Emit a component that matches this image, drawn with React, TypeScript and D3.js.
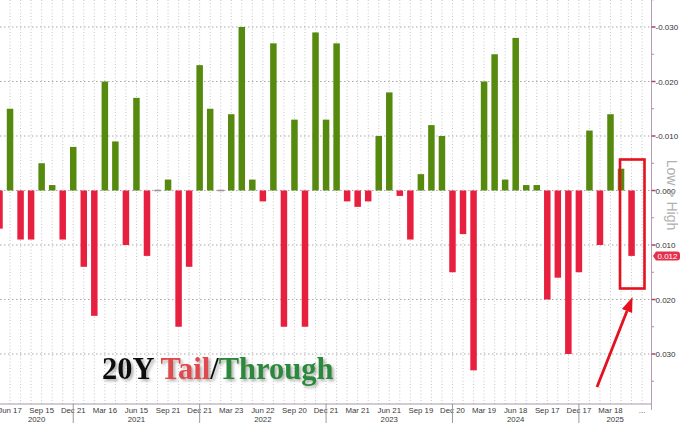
import React from 'react';
import * as d3 from 'd3';

const auctionMonths = [
  '2020-05','2020-06','2020-07','2020-08','2020-09','2020-10','2020-11','2020-12',
  '2021-01','2021-02','2021-03','2021-04','2021-05','2021-06','2021-07','2021-08','2021-09','2021-10','2021-11','2021-12',
  '2022-01','2022-02','2022-03','2022-04','2022-05','2022-06','2022-07','2022-08','2022-09','2022-10','2022-11','2022-12',
  '2023-01','2023-02','2023-03','2023-04','2023-05','2023-06','2023-07','2023-08','2023-09','2023-10','2023-11','2023-12',
  '2024-01','2024-02','2024-03','2024-04','2024-05','2024-06','2024-07','2024-08','2024-09','2024-10','2024-11','2024-12',
  '2025-01','2025-02','2025-03','2025-04','2025-05',
];

// positive = tail (drawn downward, axis Low > High), negative = through
const tailValues = [
  0.007, -0.015, 0.009, 0.009, -0.005, -0.001, 0.009, -0.008,
  0.014, 0.023, -0.020, -0.009, 0.010, -0.017, 0.012, 0.0, -0.002, 0.025, 0.014, -0.023,
  -0.015, 0.0, -0.014, -0.030, -0.002, 0.002, -0.027, 0.025, -0.013, 0.025, -0.029, -0.013,
  -0.027, 0.002, 0.003, 0.002, -0.010, -0.018, 0.001, 0.009, -0.003, -0.012, -0.010, 0.015,
  0.008, 0.033, -0.020, -0.025, -0.002, -0.028, -0.001, -0.001, 0.020, 0.016, 0.030, 0.015,
  -0.011, 0.010, -0.014, -0.004, 0.012,
];

const tickMonths = [
  '2020-06','2020-09','2020-12','2021-03','2021-06','2021-09','2021-12',
  '2022-03','2022-06','2022-09','2022-12','2023-03','2023-06','2023-09','2023-12',
  '2024-03','2024-06','2024-09','2024-12','2025-03','next',
];
const tickLabels = [
  'Jun 17','Sep 15','Dec 21','Mar 16','Jun 15','Sep 21','Dec 21',
  'Mar 23','Jun 22','Sep 20','Dec 21','Mar 21','Jun 21','Sep 19','Dec 20',
  'Mar 19','Jun 18','Sep 17','Dec 17','Mar 18','...',
];
const yearLabels = ['2020','2021','2022','2023','2024','2025'];
const yearEndMonths = ['2020-12','2021-12','2022-12','2023-12','2024-12'];
const yTicks = [-0.03, -0.02, -0.01, 0, 0.01, 0.02, 0.03];
const yMinorTicks = [-0.035, -0.025, -0.015, -0.005, 0.005, 0.015, 0.025, 0.035];

const W = 680;
const H = 423;
const PLOT_RIGHT = 651.5;
const AXIS_Y = 404;
const GREEN = '#558a0e';
const RED = '#e8203f';

export default function App() {
  const domain = [...auctionMonths, 'next'];
  const x = d3.scalePoint<string>().domain(domain).range([-0.5, 642.1]);
  const y = d3.scaleLinear().domain([-0.03, 0.03]).range([27, 354]);
  const barW = 6.5;
  const y0 = y(0);

  const bounds = [0, ...yearEndMonths.map((m) => x(m) as number), PLOT_RIGHT];
  const lastVal = tailValues[tailValues.length - 1];
  const lastY = y(lastVal);

  // arrow annotation
  const ax0 = 597, ay0 = 387, ax1 = 632.5, ay1 = 297;
  const dx = ax1 - ax0, dy = ay1 - ay0;
  const len = Math.hypot(dx, dy);
  const ux = dx / len, uy = dy / len;
  const headL = 15, headW = 5.5;
  const bx = ax1 - ux * headL, by = ay1 - uy * headL;
  const head = `${ax1},${ay1} ${bx - uy * headW},${by + ux * headW} ${bx + uy * headW},${by - ux * headW}`;

  return (
    <svg width={W} height={H} style={{ position: 'absolute', left: 0, top: 0, background: '#fff' }}
      fontFamily="'Liberation Sans', Arial, sans-serif">
      <defs>
        <filter id="shadow" x="-10%" y="-20%" width="130%" height="160%">
          <feDropShadow dx="2" dy="2" stdDeviation="1.4" floodColor="#777" floodOpacity="0.6" />
        </filter>
      </defs>
      <rect x={0} y={0} width={W} height={H} fill="#fff" />

      {/* vertical grid lines */}
      {domain.map((m) => (
        <line key={'vg' + m} x1={x(m)} x2={x(m)} y1={0} y2={AXIS_Y}
          stroke="#c4c4c4" strokeWidth={1} strokeDasharray="1,2.2" />
      ))}
      {/* horizontal grid lines */}
      {yTicks.map((t) => (
        <line key={'hg' + t} x1={0} x2={PLOT_RIGHT} y1={y(t)} y2={y(t)}
          stroke="#a8a8a8" strokeWidth={1} strokeDasharray="1.5,2.5" />
      ))}

      {/* bars */}
      {auctionMonths.map((m, i) => {
        const v = tailValues[i];
        const cx = x(m) as number;
        if (v === 0) {
          return <rect key={m} x={cx - barW / 2} y={y0 - 0.8} width={barW} height={1.6} fill="#a391a0" />;
        }
        const top = Math.min(y(v), y0);
        const h = Math.abs(y(v) - y0);
        return <rect key={m} x={cx - barW / 2} y={top} width={barW} height={h} fill={v < 0 ? GREEN : RED} />;
      })}

      {/* x axis */}
      <line x1={0} x2={PLOT_RIGHT} y1={AXIS_Y} y2={AXIS_Y} stroke="#a898a8" strokeWidth={1} />
      {tickMonths.map((m, i) => (
        <text key={'xl' + i} x={x(m)} y={412.5} textAnchor="middle" fontSize={7.8} fill="#3a3a3a">
          {tickLabels[i]}
        </text>
      ))}
      {yearEndMonths.map((m) => (
        <line key={'ys' + m} x1={x(m)} x2={x(m)} y1={AXIS_Y} y2={H} stroke="#9a9a9a" strokeWidth={1} />
      ))}
      {yearLabels.map((yl, i) => (
        <text key={yl} x={(bounds[i] + bounds[i + 1]) / 2} y={422} textAnchor="middle" fontSize={7.8} fill="#3a3a3a">
          {yl}
        </text>
      ))}

      {/* right y axis */}
      <line x1={PLOT_RIGHT} x2={PLOT_RIGHT} y1={0} y2={AXIS_Y + 6} stroke="#b79db4" strokeWidth={1} />
      {yTicks.map((t) => (
        <g key={'yt' + t}>
          <line x1={PLOT_RIGHT} x2={PLOT_RIGHT + 4} y1={y(t)} y2={y(t)} stroke="#a3456f" strokeWidth={1.5} />
          <text x={655.5} y={y(t) + 3} fontSize={8} fill="#333">{t.toFixed(3)}</text>
        </g>
      ))}
      {yMinorTicks.map((t) => (
        <line key={'ym' + t} x1={PLOT_RIGHT} x2={PLOT_RIGHT + 2.5} y1={y(t)} y2={y(t)} stroke="#b48aa3" strokeWidth={1} />
      ))}
      <text transform="translate(667,195) rotate(90)" textAnchor="middle" fontSize={14} fill="#b0b0b0">
        Low &gt; High
      </text>

      {/* last value label */}
      <path d={`M653,${lastY} L656,${lastY - 4.5} L677,${lastY - 4.5} Q680,${lastY - 4.5} 680,${lastY - 1.5} L680,${lastY + 1.5} Q680,${lastY + 4.5} 677,${lastY + 4.5} L656,${lastY + 4.5} Z`}
        fill="#e5304b" />
      <text x={667.5} y={lastY + 3} textAnchor="middle" fontSize={8} fill="#fff">{lastVal.toFixed(3)}</text>

      {/* annotation box and arrow */}
      <rect x={620} y={159.5} width={24.5} height={129} fill="none" stroke="#e3121f" strokeWidth={2.6} />
      <line x1={ax0} y1={ay0} x2={bx} y2={by} stroke="#e3121f" strokeWidth={2.8} />
      <polygon points={head} fill="#e3121f" />

      {/* title */}
      <text x={102} y={379} fontFamily="'Liberation Serif', 'Times New Roman', serif" fontWeight="bold"
        fontSize={30.5} filter="url(#shadow)">
        <tspan fill="#111">20Y </tspan>
        <tspan fill="#e0484e">Tail</tspan>
        <tspan fill="#111">/</tspan>
        <tspan fill="#2b8a3a">Through</tspan>
      </text>
    </svg>
  );
}
